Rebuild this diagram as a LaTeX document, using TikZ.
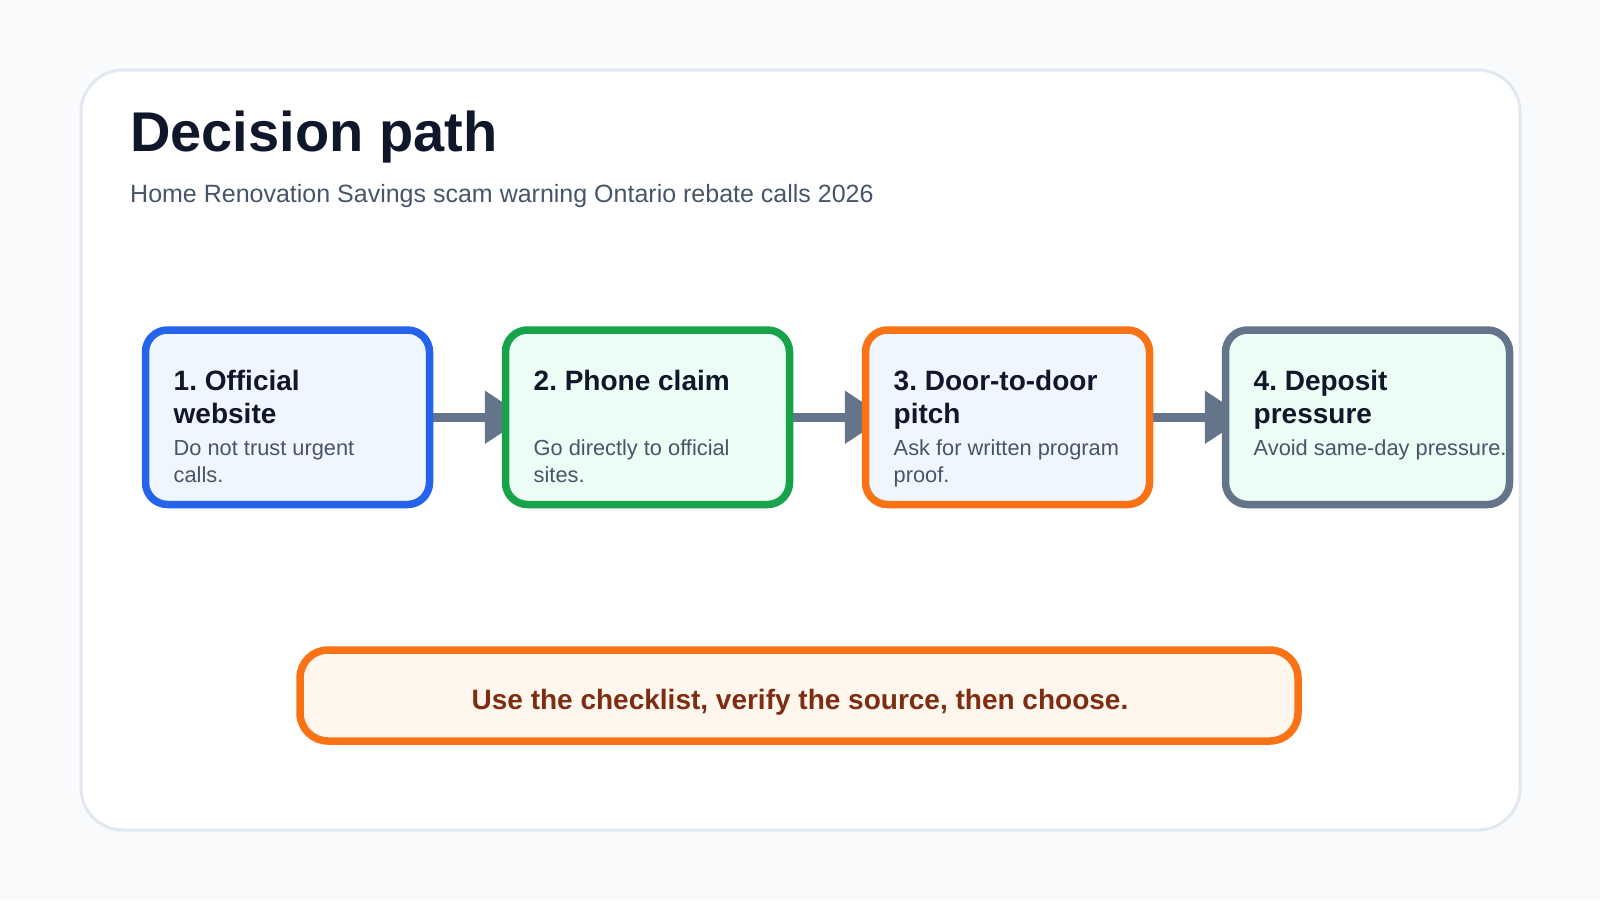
\documentclass[tikz,border=0pt]{standalone}
\usepackage{fontspec}
\setmainfont{Liberation Sans}
\usetikzlibrary{arrows.meta}
\frenchspacing
\definecolor{pagebg}{HTML}{F8FAFC}
\definecolor{cardline}{HTML}{E2E8F0}
\definecolor{titlecol}{HTML}{0F172A}
\definecolor{bodycol}{HTML}{475569}
\definecolor{blueline}{HTML}{2563EB}
\definecolor{bluefill}{HTML}{EFF6FF}
\definecolor{greenline}{HTML}{16A34A}
\definecolor{greenfill}{HTML}{ECFDF5}
\definecolor{orangeline}{HTML}{F97316}
\definecolor{slateline}{HTML}{64748B}
\definecolor{notefill}{HTML}{FFF7ED}
\definecolor{notetext}{HTML}{7C2D12}
\pgfdeclarelayer{bglayer}
\pgfdeclarelayer{arrlayer}
\pgfsetlayers{bglayer,arrlayer,main}
\tikzset{
  stepbox/.style={draw, rectangle, rounded corners=22pt, line width=7.5pt,
    minimum width=284pt, minimum height=174.5pt, inner sep=0pt},
  steptitle/.style={anchor=base west, inner sep=0pt, text=titlecol,
    font=\fontsize{28}{33}\selectfont\bfseries\frenchspacing},
  stepbody/.style={anchor=base west, inner sep=0pt, text=bodycol,
    font=\fontsize{21.8}{27}\selectfont\frenchspacing},
  flowarrow/.style={draw=slateline, line width=9pt, line cap=round,
    -{Triangle[length=41pt,width=51pt]}},
}
\begin{document}
\begin{tikzpicture}[x=1pt,y=-1pt]
\begin{pgfonlayer}{bglayer}
\fill[pagebg] (0,0) rectangle (1600,900);
\node[draw=cardline, fill=white, line width=3pt, rounded corners=42pt,
  minimum width=1439pt, minimum height=760pt, inner sep=0pt] (card) at (800.5,450) {};
\end{pgfonlayer}
\useasboundingbox (0,0) rectangle (1600,900);

\node[anchor=base west, inner sep=0pt, text=titlecol,
  font=\fontsize{56}{60}\selectfont\bfseries] (title) at (130,151) {Decision path};
\node[anchor=base west, inner sep=0pt, text=bodycol,
  font=\fontsize{25}{30}\selectfont] (subtitle) at (130,202)
  {Home Renovation Savings scam warning Ontario rebate calls 2026};

\node[stepbox, draw=blueline, fill=bluefill] (b1) at (287.5,417.25) {};
\node[stepbox, draw=greenline, fill=greenfill] (b2) at (647.5,417.25) {};
\node[stepbox, draw=orangeline, fill=bluefill] (b3) at (1007.5,417.25) {};
\node[stepbox, draw=slateline, fill=greenfill] (b4) at (1367.5,417.25) {};

\node[steptitle] (b1t1) at (173.5,390) {1. Official};
\node[steptitle] (b1t2) at (173.5,423) {website};
\node[stepbody] (b1d1) at (173.5,455) {Do not trust urgent};
\node[stepbody] (b1d2) at (173.5,482) {calls.};

\node[steptitle] (b2t1) at (533.5,390) {2. Phone claim};
\node[stepbody] (b2d1) at (533.5,455) {Go directly to official};
\node[stepbody] (b2d2) at (533.5,482) {sites.};

\node[steptitle] (b3t1) at (893.5,390) {3. Door-to-door};
\node[steptitle] (b3t2) at (893.5,423) {pitch};
\node[stepbody] (b3d1) at (893.5,455) {Ask for written program};
\node[stepbody] (b3d2) at (893.5,482) {proof.};

\node[steptitle] (b4t1) at (1253.5,390) {4. Deposit};
\node[steptitle] (b4t2) at (1253.5,423) {pressure};
\node[stepbody] (b4d1) at (1253.5,455) {Avoid same-day pressure.};

\begin{pgfonlayer}{arrlayer}
\draw[flowarrow] (b1.east) -- ([xshift=24pt]b2.west);
\draw[flowarrow] (b2.east) -- ([xshift=24pt]b3.west);
\draw[flowarrow] (b3.east) -- ([xshift=24pt]b4.west);
\end{pgfonlayer}

\node[draw=orangeline, fill=notefill, line width=7.5pt, rounded corners=28pt,
  minimum width=998pt, minimum height=91pt, inner sep=0pt] (note) at (799,695.5) {};
\node[anchor=base, inner sep=0pt, text=notetext,
  font=\fontsize{28}{32}\selectfont\bfseries] (notetxt) at (800,709)
  {Use the checklist, verify the source, then choose.};
\end{tikzpicture}
\end{document}
